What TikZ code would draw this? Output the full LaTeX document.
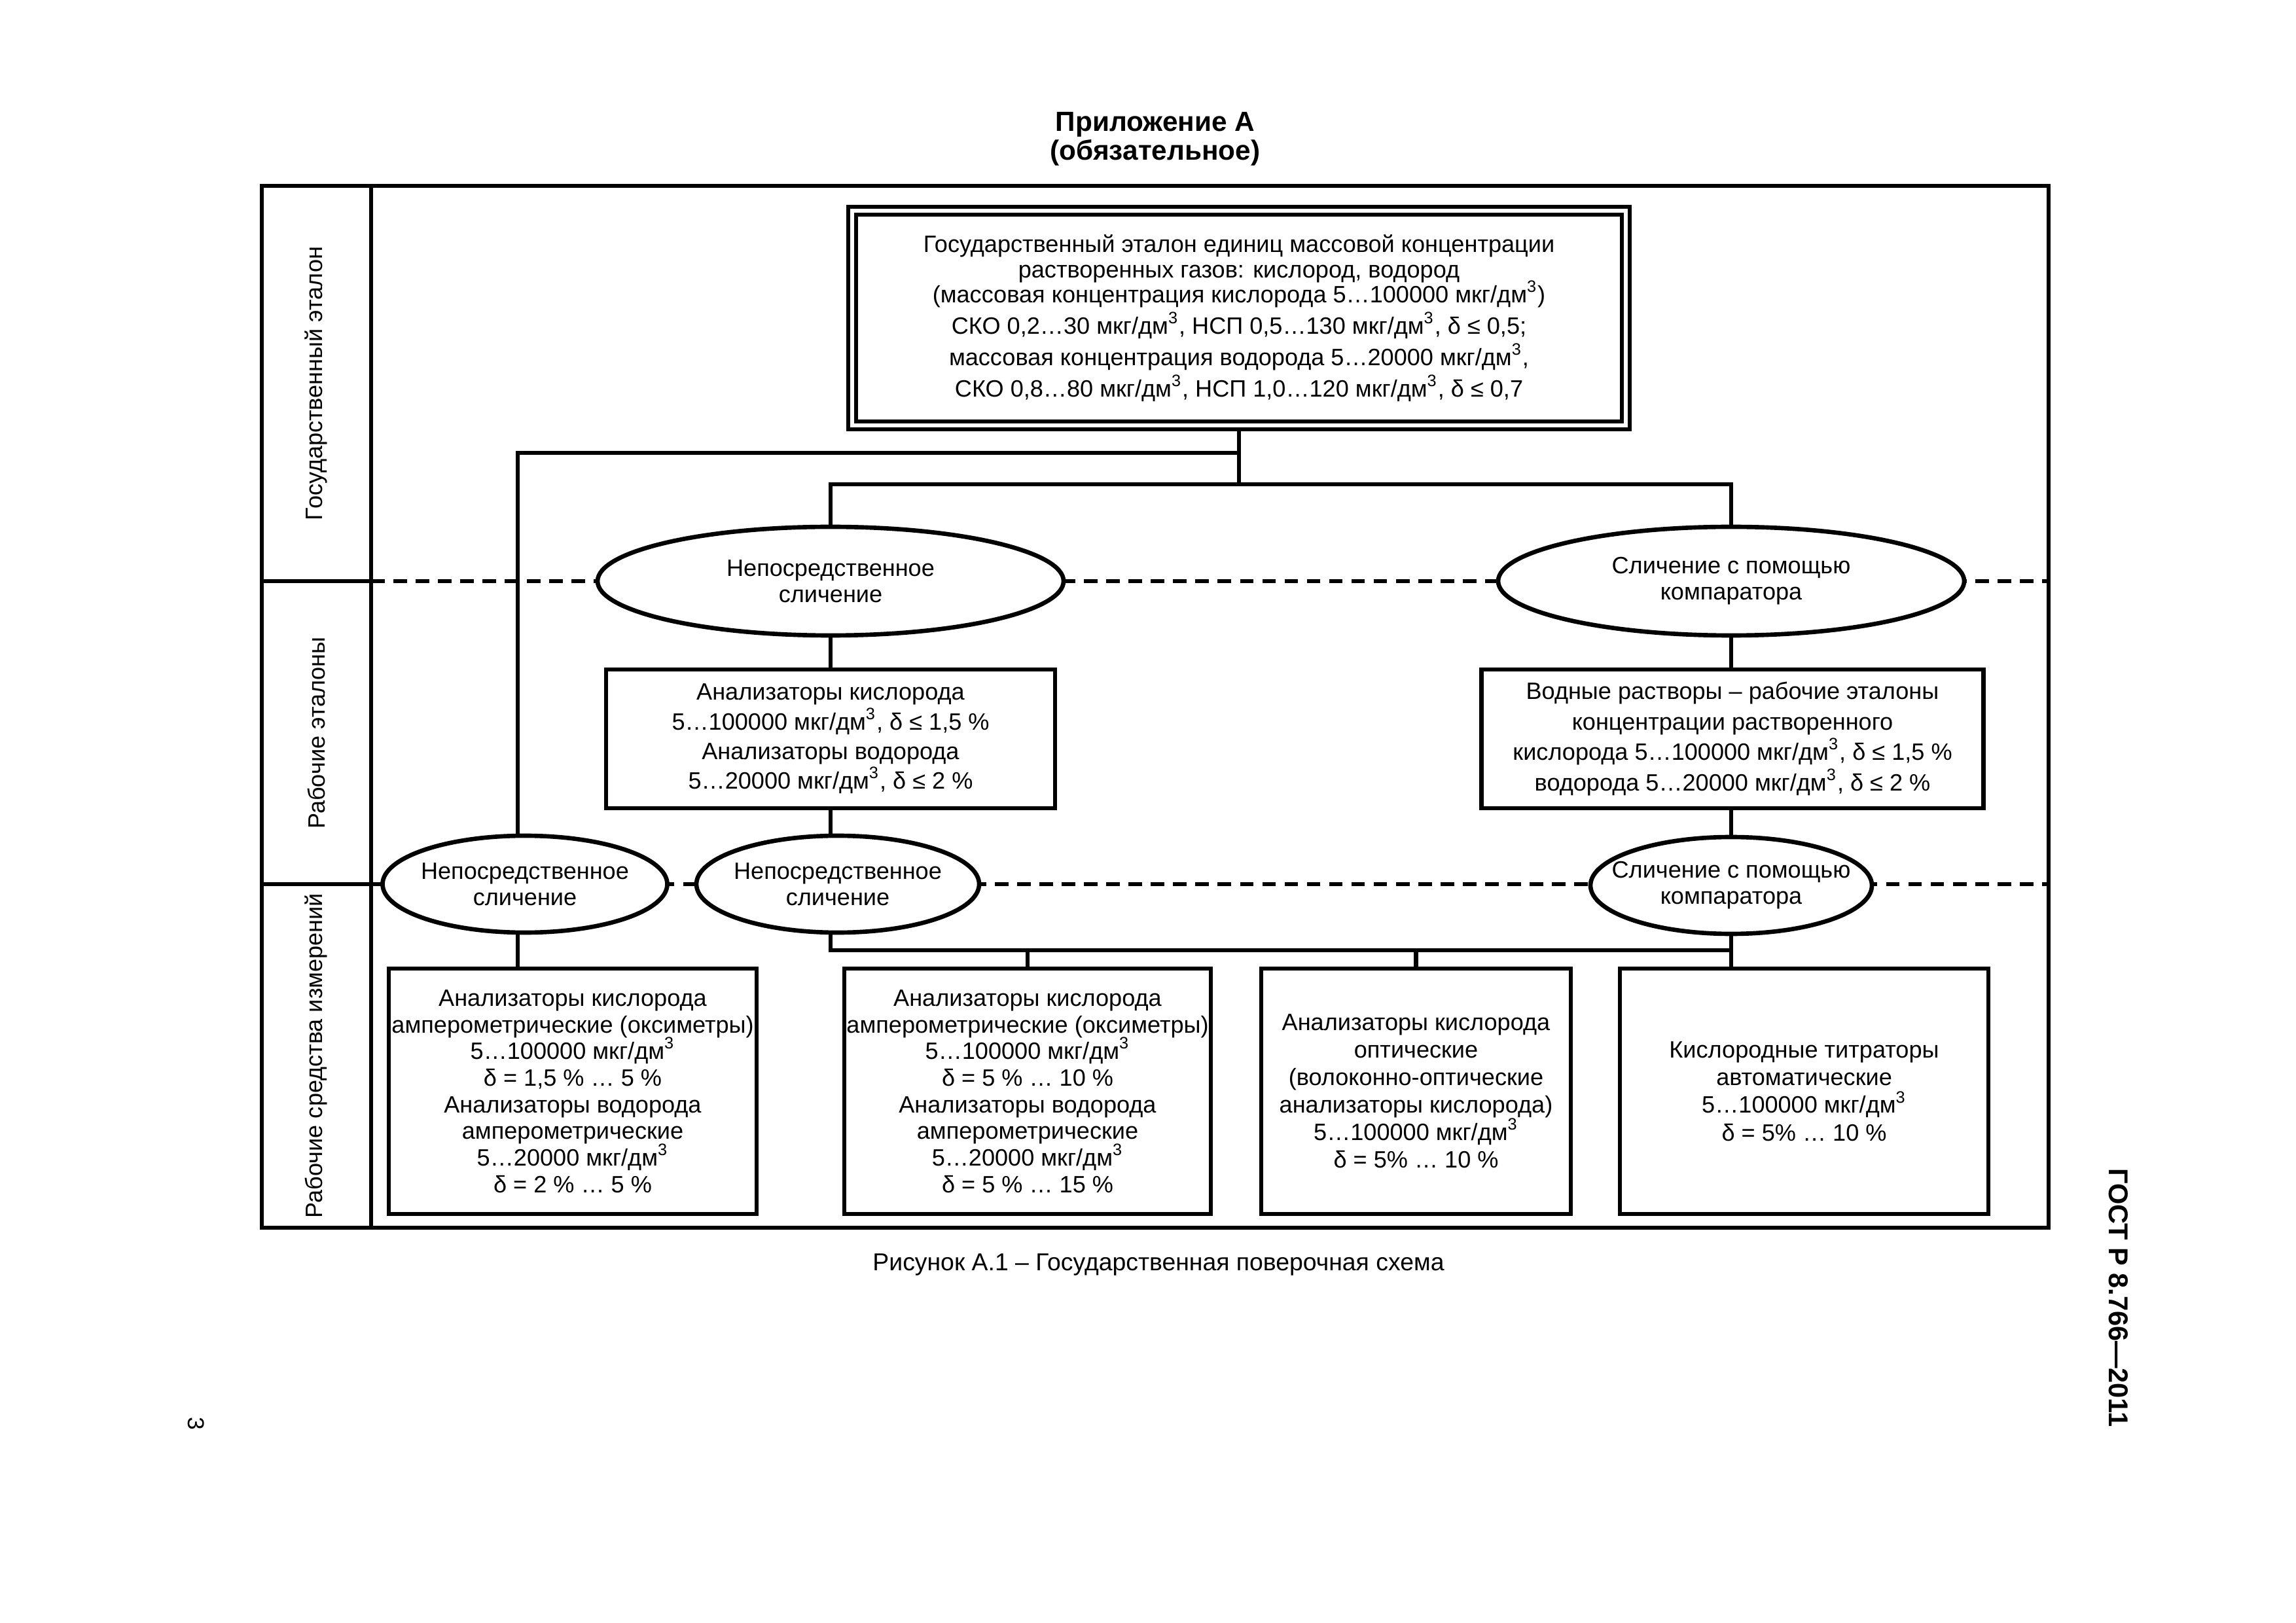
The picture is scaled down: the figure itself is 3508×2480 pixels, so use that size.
\documentclass[tikz,border=0pt]{standalone}
\usepackage{fontspec}
\setmainfont{Liberation Sans}
\usetikzlibrary{shapes.geometric}
\newcommand\cub{\smash{\textsuperscript{3}}}
\newcommand\bodyfont[1]{\fontsize{8.7}{#1}\selectfont}
\begin{document}
\begin{tikzpicture}[x=0.084664mm, y=-0.084664mm,
  frameline/.style={line width=1.3pt},
  sepline/.style={line width=1.5pt, dash pattern=on 5pt off 3.2pt},
  conn/.style={line width=1.5pt},
  box/.style={draw, line width=1.6pt, fill=white, align=center, inner sep=0pt},
  oval/.style={ellipse, draw, line width=1.6pt, fill=white, align=center, inner xsep=-30pt, inner ysep=0pt, font=\bodyfont{9.7pt}},
  lbl/.style={rotate=90, font=\bodyfont{10pt}}]
\useasboundingbox (0,0) rectangle (3508,2480);
% frame
\draw[frameline] (400,284) rectangle (3130,1876);
\draw[frameline] (567,284) -- (567,1876);
\draw[frameline] (400,888) -- (567,888);
\draw[frameline] (400,1351) -- (567,1351);
\draw[sepline] (567,888) -- (3130,888);
\draw[sepline] (567,1351) -- (3130,1351);
% labels
\node[lbl] (l1) at (483,586) {Государственный эталон};
\node[lbl] (l2) at (483,1120) {Рабочие эталоны};
\node[lbl] (l3) at (483,1613) {Рабочие средства измерений};
% title
\node[font=\fontsize{10.2}{12}\bfseries] (t1) at (1765,190) {Приложение А};
\node[font=\fontsize{10.2}{12}\bfseries] (t2) at (1765,233) {(обязательное)};
\node[font=\fontsize{9}{11}\selectfont] (cap) at (1770,1933) {Рисунок А.1 – Государственная поверочная схема};
\node[rotate=-90, font=\fontsize{10}{12}\bfseries] (gost) at (3237,1983) {ГОСТ Р 8.766—2011};
\node[rotate=-90, font=\fontsize{8.5}{10}\selectfont] (pg) at (300,2175) {3};
% top box
\node[box, double, double distance=1.4pt, line width=1.4pt, minimum width=1182*0.084664mm, minimum height=328*0.084664mm, font=\bodyfont{9.3pt}] (top) at (1893,486)
 {Государственный эталон единиц массовой концентрации\\
  растворенных газов: кислород, водород\\
  (массовая концентрация кислорода 5…100000 мкг/дм\cub)\\[2.2pt]
  СКО 0,2…30 мкг/дм\cub, НСП 0,5…130 мкг/дм\cub, δ ≤ 0,5;\\[2.2pt]
  массовая концентрация водорода 5…20000 мкг/дм\cub,\\[2.2pt]
  СКО 0,8…80 мкг/дм\cub, НСП 1,0…120 мкг/дм\cub, δ ≤ 0,7};
% big ellipses
\node[oval, minimum width=712*0.084664mm, minimum height=166*0.084664mm] (eA) at (1269,888) {Непосредственное\\сличение};
\node[oval, minimum width=712*0.084664mm, minimum height=166*0.084664mm] (eB) at (2645,888) {Сличение с помощью\\компаратора};
% working standards
\node[box, minimum width=686*0.084664mm, minimum height=212*0.084664mm, font=\bodyfont{10.9pt}] (wa) at (1269,1129)
 {Анализаторы кислорода\\
  5…100000 мкг/дм\cub, δ ≤ 1,5 \%\\
  Анализаторы водорода\\
  5…20000 мкг/дм\cub, δ ≤ 2 \%};
\node[box, minimum width=767*0.084664mm, minimum height=212*0.084664mm, font=\bodyfont{11.2pt}] (wb) at (2647,1129)
 {Водные растворы – рабочие эталоны\\
  концентрации растворенного\\
  кислорода 5…100000 мкг/дм\cub, δ ≤ 1,5 \%\\
  водорода 5…20000 мкг/дм\cub, δ ≤ 2 \%};
% small ellipses
\node[oval, minimum width=435*0.084664mm, minimum height=148*0.084664mm] (e1) at (802,1351) {Непосредственное\\сличение};
\node[oval, minimum width=432*0.084664mm, minimum height=148*0.084664mm] (e2) at (1280,1351) {Непосредственное\\сличение};
\node[oval, minimum width=430*0.084664mm, minimum height=148*0.084664mm] (e3) at (2645,1353) {Сличение с помощью\\компаратора};
% measuring instruments
\node[box, minimum width=562*0.084664mm, minimum height=375*0.084664mm, font=\bodyfont{9.8pt}] (m1) at (875,1667.5)
 {Анализаторы кислорода\\
  амперометрические (оксиметры)\\
  5…100000 мкг/дм\cub\\
  δ = 1,5 \% … 5 \%\\
  Анализаторы водорода\\
  амперометрические\\
  5…20000 мкг/дм\cub\\
  δ = 2 \% … 5 \%};
\node[box, minimum width=560*0.084664mm, minimum height=375*0.084664mm, font=\bodyfont{9.8pt}] (m2) at (1570,1667.5)
 {Анализаторы кислорода\\
  амперометрические (оксиметры)\\
  5…100000 мкг/дм\cub\\
  δ = 5 \% … 10 \%\\
  Анализаторы водорода\\
  амперометрические\\
  5…20000 мкг/дм\cub\\
  δ = 5 \% … 15 \%};
\node[box, minimum width=473*0.084664mm, minimum height=375*0.084664mm, font=\bodyfont{10.1pt}] (m3) at (2163.5,1667.5)
 {Анализаторы кислорода\\
  оптические\\
  (волоконно-оптические\\
  анализаторы кислорода)\\
  5…100000 мкг/дм\cub\\
  δ = 5\% … 10 \%};
\node[box, minimum width=563*0.084664mm, minimum height=375*0.084664mm, font=\bodyfont{10.2pt}] (m4) at (2756.5,1667.5)
 {Кислородные титраторы\\
  автоматические\\
  5…100000 мкг/дм\cub\\
  δ = 5\% … 10 \%};
% junctions
\coordinate (j1) at (1893,692);
\coordinate (j2) at (1893,740);
\coordinate (c1) at (791,692);
\coordinate (j3) at (1269,1452);
\coordinate (j4) at (2645,1452);
% connectors
\draw[conn] (top.south) -- (j2);
\draw[conn] (j1) -- (c1) -- (c1 |- e1.north);
\draw[conn] (eA.north) |- (j2) -| (eB.north);
\draw[conn] (eA.south) -- (wa.north);
\draw[conn] (eB.south) -- (eB.south |- wb.north);
\draw[conn] (wa.south) -- (wa.south |- e2.north);
\draw[conn] (e3.north |- wb.south) -- (e3.north);
\draw[conn] (c1 |- e1.south) -- (c1 |- m1.north);
\draw[conn] (j3 |- e2.south) -- (j3) -- (j4);
\draw[conn] (e3.south) -- (e3.south |- m4.north);
\draw[conn] (m2.north |- j3) -- (m2.north);
\draw[conn] (m3.north |- j3) -- (m3.north);
\end{tikzpicture}
\end{document}
